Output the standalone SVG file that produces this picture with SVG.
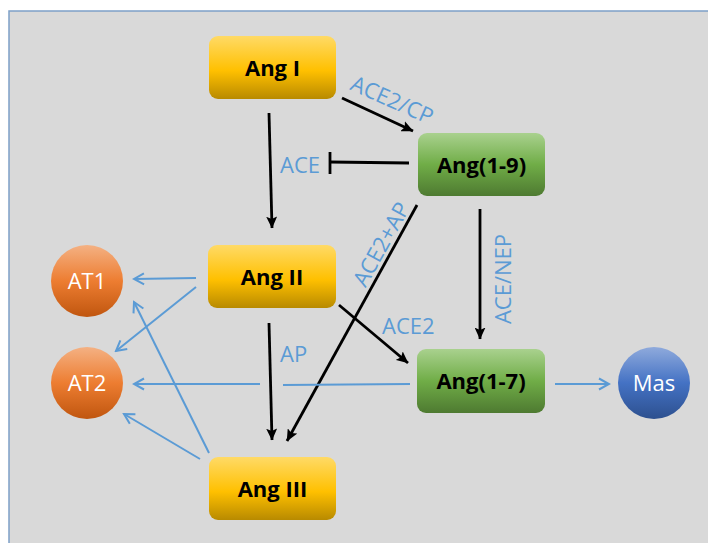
<svg xmlns="http://www.w3.org/2000/svg" width="708" height="543" viewBox="0 0 708 543">
<style>
.lbl{font-family:"Open Sans","Liberation Sans",sans-serif;font-size:22px;fill:#5b9bd5}
.nt{font-family:"Open Sans","Liberation Sans",sans-serif;font-size:22px;font-weight:bold;fill:#000;text-anchor:middle}
.ct{font-family:"Open Sans","Liberation Sans",sans-serif;font-size:22px;fill:#fff;text-anchor:middle}
.blk{stroke:#000;stroke-width:2.8;fill:none}
.blu{stroke:#5b9bd5;stroke-width:2;fill:none}
</style>
<defs>
<linearGradient id="gGold" x1="0" y1="0" x2="0" y2="1">
<stop offset="0" stop-color="#ffda66"/><stop offset="0.55" stop-color="#ffc000"/><stop offset="1" stop-color="#b88a00"/>
</linearGradient>
<linearGradient id="gGreen" x1="0" y1="0" x2="0" y2="1">
<stop offset="0" stop-color="#a9d18e"/><stop offset="0.5" stop-color="#70ad47"/><stop offset="1" stop-color="#4e7a31"/>
</linearGradient>
<linearGradient id="gOrange" x1="0" y1="0" x2="0" y2="1">
<stop offset="0" stop-color="#f4b183"/><stop offset="0.5" stop-color="#ed7d31"/><stop offset="1" stop-color="#c0560f"/>
</linearGradient>
<linearGradient id="gBlue" x1="0" y1="0" x2="0" y2="1">
<stop offset="0" stop-color="#8faadc"/><stop offset="0.5" stop-color="#4472c4"/><stop offset="1" stop-color="#2d508f"/>
</linearGradient>
<marker id="ab" markerUnits="userSpaceOnUse" markerWidth="12" markerHeight="11" viewBox="0 0 12 11" refX="11.5" refY="5.5" orient="auto">
<path d="M0,0 L12,5.5 L0,11 L2.5,5.5 z" fill="#000"/>
</marker>
<marker id="aw" markerUnits="userSpaceOnUse" markerWidth="14" markerHeight="14" viewBox="0 0 14 14" refX="12" refY="7" orient="auto">
<path d="M2,1.5 L12,7 L2,12.5" fill="none" stroke="#5b9bd5" stroke-width="2"/>
</marker>
</defs>
<rect x="9" y="11" width="720" height="560" fill="#d9d9d9" stroke="#7ea0c8" stroke-width="1.5"/>
<g id="connectors">
<line class="blk" x1="269" y1="113" x2="272" y2="228" marker-end="url(#ab)"/>
<line class="blk" x1="342" y1="98" x2="413" y2="131" marker-end="url(#ab)"/>
<line class="blk" x1="409" y1="163" x2="330" y2="162"/>
<line class="blk" x1="330" y1="152" x2="330" y2="174"/>
<line class="blk" x1="480" y1="209" x2="480" y2="339" marker-end="url(#ab)"/>
<line class="blk" x1="417" y1="205" x2="287" y2="441" marker-end="url(#ab)"/>
<line class="blk" x1="339" y1="305" x2="408" y2="363" marker-end="url(#ab)"/>
<line class="blk" x1="269" y1="323" x2="272" y2="440" marker-end="url(#ab)"/>
<line class="blu" x1="196" y1="278" x2="134" y2="279" marker-end="url(#aw)"/>
<line class="blu" x1="196" y1="287" x2="116" y2="351" marker-end="url(#aw)"/>
<path class="blu" d="M410,384 L283,385 M260,384 L134,384" marker-end="url(#aw)"/>
<line class="blu" x1="209" y1="453" x2="134" y2="302" marker-end="url(#aw)"/>
<line class="blu" x1="200" y1="459" x2="124" y2="414" marker-end="url(#aw)"/>
<line class="blu" x1="555" y1="384" x2="609" y2="384" marker-end="url(#aw)"/>
<text class="lbl" x="280" y="173">ACE</text>
<text class="lbl" x="389" y="107" text-anchor="middle" transform="rotate(24 389 107)">ACE2/CP</text>
<text class="lbl" x="388" y="248" text-anchor="middle" transform="rotate(-61 388 248)">ACE2+AP</text>
<text class="lbl" x="511" y="279" text-anchor="middle" transform="rotate(-90 511 279)">ACE/NEP</text>
<text class="lbl" x="382" y="334">ACE2</text>
<text class="lbl" x="280" y="362">AP</text>
</g>
<g id="angI"><rect x="209" y="36" width="127" height="63" rx="9" fill="url(#gGold)"/><text class="nt" x="272.5" y="75.5">Ang I</text></g>
<g id="ang19"><rect x="418" y="133" width="127" height="63" rx="9" fill="url(#gGreen)"/><text class="nt" x="481.5" y="172.5">Ang(1-9)</text></g>
<g id="angII"><rect x="208" y="245" width="128" height="63" rx="9" fill="url(#gGold)"/><text class="nt" x="272" y="284.5">Ang II</text></g>
<g id="ang17"><rect x="417" y="349" width="128" height="64" rx="9" fill="url(#gGreen)"/><text class="nt" x="481" y="389">Ang(1-7)</text></g>
<g id="angIII"><rect x="209" y="457" width="127" height="63" rx="9" fill="url(#gGold)"/><text class="nt" x="272.5" y="496.5">Ang III</text></g>
<g id="at1"><circle cx="87" cy="281" r="36" fill="url(#gOrange)"/><text class="ct" x="87" y="289">AT1</text></g>
<g id="at2"><circle cx="87" cy="383" r="36" fill="url(#gOrange)"/><text class="ct" x="87" y="391">AT2</text></g>
<g id="mas"><circle cx="654" cy="383" r="36" fill="url(#gBlue)"/><text class="ct" x="654" y="391">Mas</text></g>
</svg>
